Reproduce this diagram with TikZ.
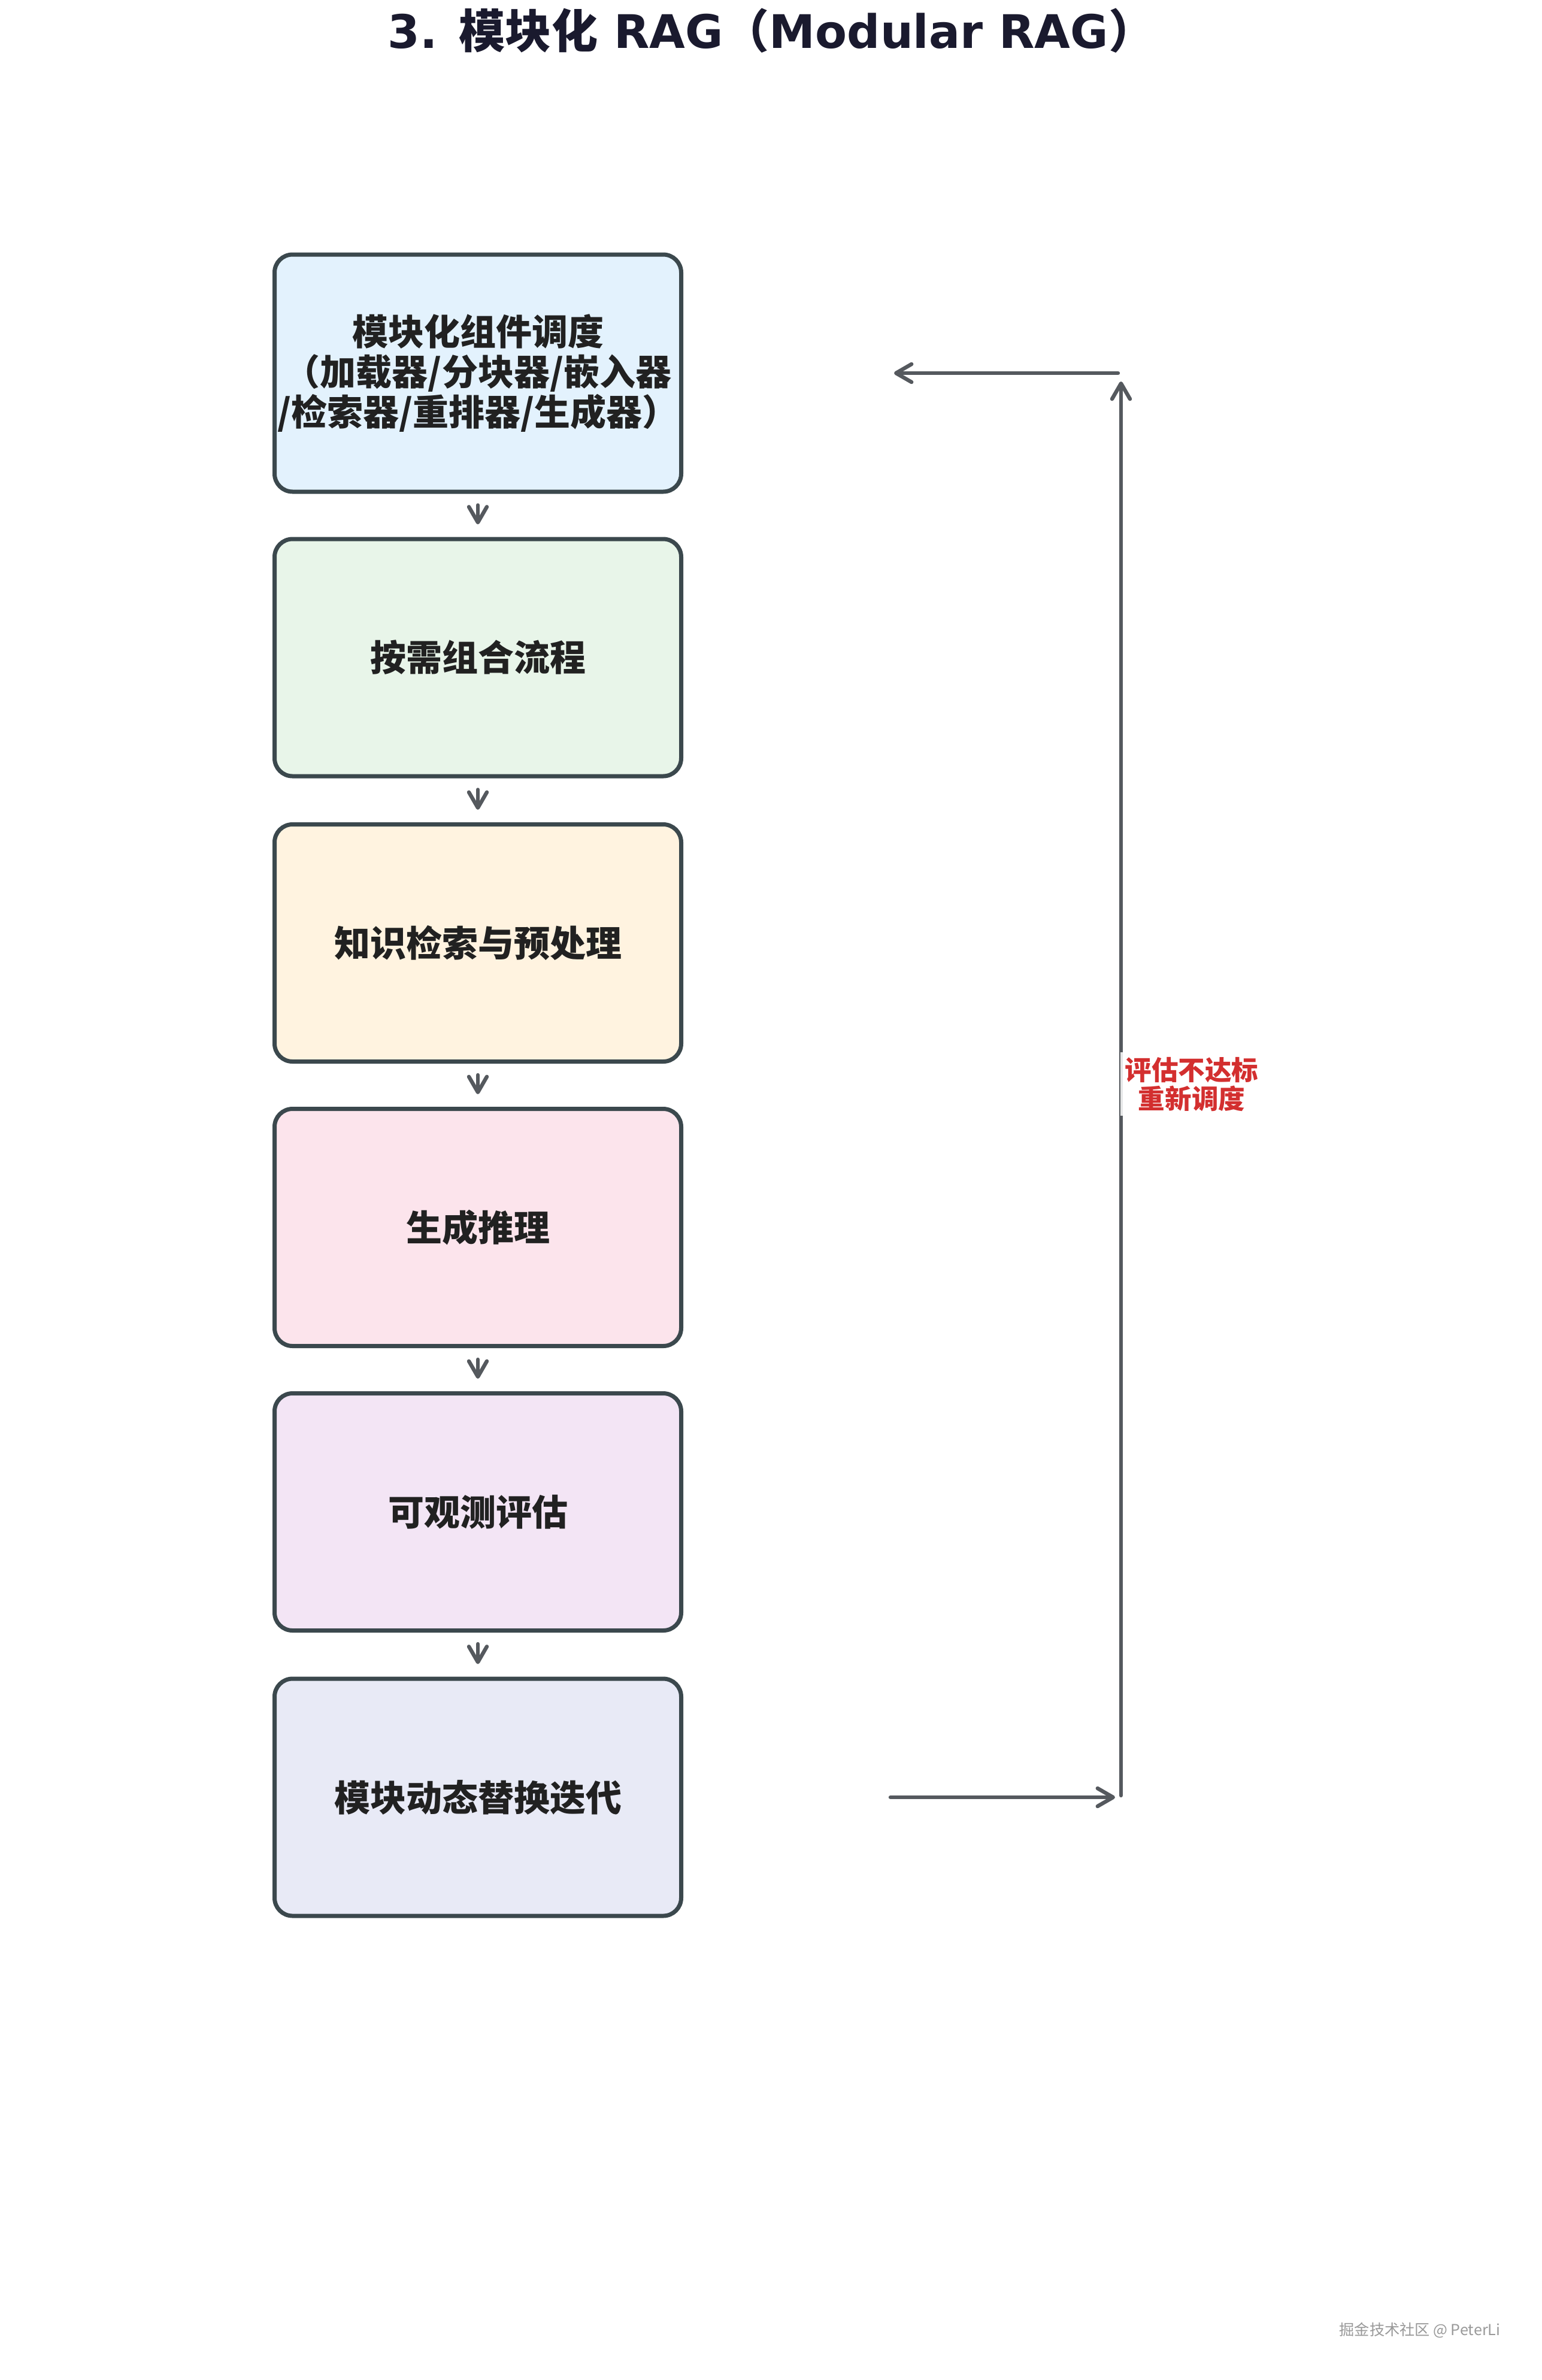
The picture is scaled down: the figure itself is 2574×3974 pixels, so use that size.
\documentclass[tikz,border=0pt]{standalone}
\usepackage{fontspec}
\setmainfont{DejaVu Sans}
\newfontfamily\cjk{Noto Sans CJK SC}
\usetikzlibrary{arrows.meta}
\definecolor{bordercol}{HTML}{3B484D}
\definecolor{arrowcol}{HTML}{55595E}
\definecolor{titlecol}{HTML}{1A1A2E}
\definecolor{textcol}{HTML}{212121}
\definecolor{labelred}{HTML}{D32F2F}
\definecolor{fillA}{HTML}{E3F2FD}
\definecolor{fillB}{HTML}{E8F5E9}
\definecolor{fillC}{HTML}{FFF3E0}
\definecolor{fillD}{HTML}{FCE4EC}
\definecolor{fillE}{HTML}{F3E5F5}
\definecolor{fillF}{HTML}{E8EAF6}
\tikzset{
  stagebox/.style={draw=bordercol, line width=1.75pt, rounded corners=7.5pt,
    minimum width=169.75pt, minimum height=99pt, inner sep=0pt,
    align=center, text=textcol, font=\cjk\bfseries\fontsize{15pt}{16.75pt}\selectfont},
  flowarrow/.style={draw=arrowcol, line width=1.6pt, line cap=round,
    -{Straight Barb[length=6.5pt,width=7.5pt,line cap=round,line join=round]}},
  shortarrow/.style={flowarrow, shorten <=4.75pt, shorten >=5.25pt},
  fblabel/.style={fill=white, fill opacity=0.85, text opacity=1, inner sep=2pt,
    align=center, text=labelred, font=\cjk\bfseries\fontsize{11.15pt}{12pt}\selectfont}
}
\begin{document}
\begin{tikzpicture}[x=0.25pt, y=-0.25pt]
\path[use as bounding box, fill=white] (0,0) rectangle (2574,3974);

\node[text=titlecol, font=\bfseries\fontsize{19.3pt}{22pt}\selectfont] (title) at (1288,51)
  {3. {\cjk 模块化} RAG{\cjk （}Modular RAG{\cjk ）}};

\node[stagebox, fill=fillA] (b1) at (798,623) {模块化组件调度\\（加载器/分块器/嵌入器\\/检索器/重排器/生成器）};
\node[stagebox, fill=fillB] (b2) at (798,1098) {按需组合流程};
\node[stagebox, fill=fillC] (b3) at (798,1574.5) {知识检索与预处理};
\node[stagebox, fill=fillD] (b4) at (798,2049.5) {生成推理};
\node[stagebox, fill=fillE] (b5) at (798,2524.5) {可观测评估};
\node[stagebox, fill=fillF] (b6) at (798,3001) {模块动态替换迭代};

\draw[shortarrow] (b1) -- (b2);
\draw[shortarrow] (b2) -- (b3);
\draw[shortarrow] (b3) -- (b4);
\draw[shortarrow] (b4) -- (b5);
\draw[shortarrow] (b5) -- (b6);

\coordinate (fbA) at (1487,3001);
\coordinate (fbB) at (1872,3001);
\coordinate (fbC) at (1872,623);
\coordinate (fbD) at (1493,623);

\draw[flowarrow, shorten >=2.5pt] (fbA) -- (fbB);
\draw[flowarrow, shorten <=0.75pt, shorten >=3.5pt] (fbB) -- (fbC);
\draw[flowarrow, shorten <=1.25pt] (fbC) -- (fbD);

\node[fblabel] (lbl) at (1990,1810) {评估不达标\\重新调度};

\node[text=black!40, font=\cjk\fontsize{6.3pt}{7pt}\selectfont] (wm) at (2371,3891) {掘金技术社区 @ PeterLi};
\end{tikzpicture}
\end{document}
